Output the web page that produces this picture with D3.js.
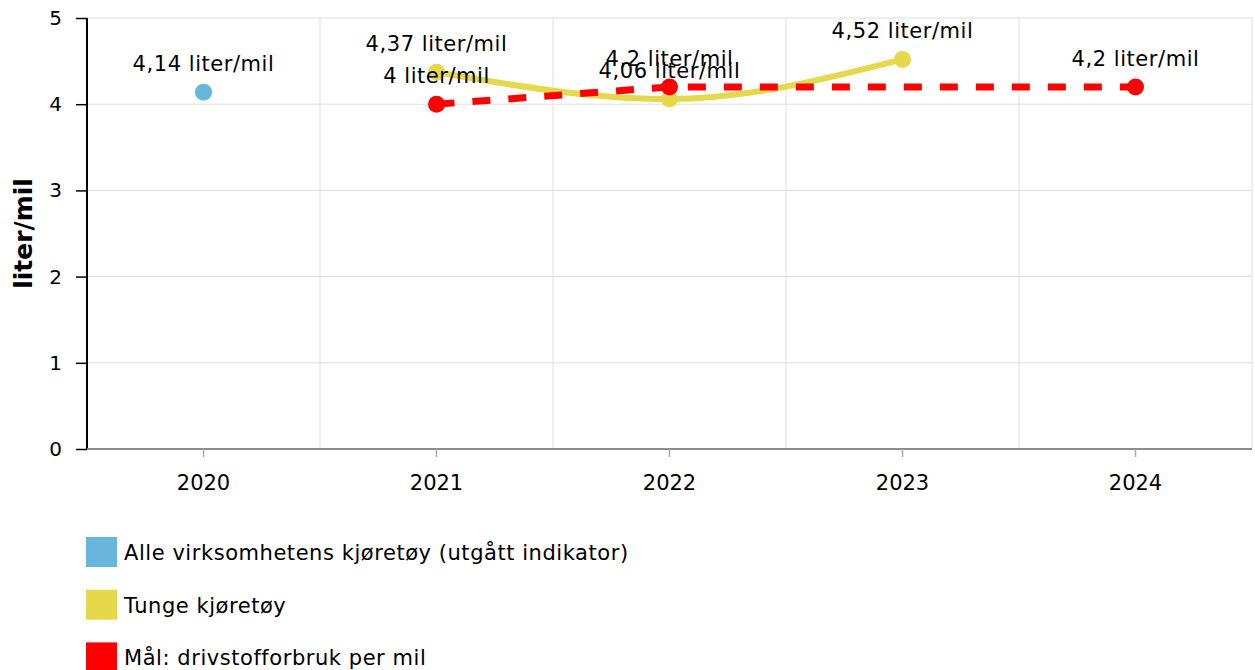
<!DOCTYPE html>
<html>
<head>
<meta charset="utf-8">
<script src="https://cdn.jsdelivr.net/npm/d3@7"></script>
<style>
  body { margin: 0; background: #fff; }
  svg, svg text { font-family: Verdana, "DejaVu Sans", sans-serif; }
  svg { display: block; }
  .grid line { stroke: #dedede; stroke-width: 1; }
</style>
</head>
<body>
<div id="chart"></div>
<script>
// data
var years = ["2020", "2021", "2022", "2023", "2024"];
var yTicks = [0, 1, 2, 3, 4, 5];

var alleValues = [4.14, null, null, null, null];
var tungeValues = [null, 4.37, 4.06, 4.52, null];
var malValues = [null, 4, 4.2, null, 4.2];

var seriesNames = ["Alle virksomhetens kjøretøy (utgått indikator)", "Tunge kjøretøy", "Mål: drivstofforbruk per mil"];
var seriesColors = ["#68b6dc", "#e5d84a", "#ff0000"];

var width = 1255, height = 670;
var margin = {top: 18, right: 3, bottom: 221, left: 87};
var innerW = width - margin.left - margin.right,
    innerH = height - margin.top - margin.bottom;

var svg = d3.select("#chart").append("svg")
    .attr("width", width)
    .attr("height", height);

var g = svg.append("g")
    .attr("transform", "translate(" + margin.left + "," + margin.top + ")");

var x = d3.scaleBand().domain(years).range([0, innerW]);
var y = d3.scaleLinear().domain([0, 5]).range([innerH, 0]);

function fmt(v) { return String(v).replace(".", ",") + " liter/mil"; }

// grid
var grid = g.append("g").attr("class", "grid");
grid.selectAll(".h").data(yTicks).enter().append("line")
    .attr("x1", 0).attr("x2", innerW)
    .attr("y1", function(d) { return y(d); })
    .attr("y2", function(d) { return y(d); });
grid.selectAll(".v").data(years.slice(1)).enter().append("line")
    .attr("x1", function(d) { return x(d); })
    .attr("x2", function(d) { return x(d); })
    .attr("y1", 0).attr("y2", innerH);
grid.append("line")
    .attr("x1", innerW).attr("x2", innerW)
    .attr("y1", 0).attr("y2", innerH);

// axes
var yAxis = g.append("g")
    .call(d3.axisLeft(y).tickValues(yTicks).tickFormat(d3.format("d")).tickSize(11).tickPadding(14));
yAxis.select(".domain").attr("stroke", "#000").attr("stroke-width", 2).attr("d", "M0," + innerH + "V0");
yAxis.selectAll(".tick line").attr("stroke", "#000").attr("stroke-width", 1.5);
yAxis.selectAll("text").attr("font-size", 20).attr("fill", "#000");

var xAxis = g.append("g")
    .attr("transform", "translate(0," + innerH + ")")
    .call(d3.axisBottom(x).tickSize(8).tickPadding(18));
xAxis.select(".domain").attr("stroke", "#8c8c8c").attr("stroke-width", 2).attr("d", "M0,0H" + innerW);
xAxis.selectAll(".tick line").attr("stroke", "#aaa").attr("stroke-width", 1.5);
xAxis.selectAll("text").attr("font-size", 21).attr("fill", "#000");

svg.append("text")
    .attr("transform", "translate(32," + (margin.top + innerH / 2) + ") rotate(-90)")
    .attr("text-anchor", "middle")
    .attr("font-size", 25)
    .attr("font-weight", "bold")
    .text("liter/mil");

function pts(vals) {
  return vals.map(function(v, i) { return {year: years[i], v: v}; })
             .filter(function(d) { return d.v !== null; });
}
var cx = function(d) { return x(d.year) + x.bandwidth() / 2; };

// tunge line (smooth)
g.append("path")
    .datum(pts(tungeValues))
    .attr("fill", "none")
    .attr("stroke", seriesColors[1])
    .attr("stroke-width", 6)
    .attr("d", d3.line().x(cx).y(function(d) { return y(d.v); }).curve(d3.curveMonotoneX));

// mål line (dashed, gaps connected)
g.append("path")
    .datum(pts(malValues))
    .attr("fill", "none")
    .attr("stroke", seriesColors[2])
    .attr("stroke-width", 7)
    .attr("stroke-dasharray", "18,18")
    .attr("d", d3.line().x(cx).y(function(d) { return y(d.v); }));

var all = [alleValues, tungeValues, malValues];
all.forEach(function(vals, i) {
  g.append("g").selectAll("circle").data(pts(vals)).enter().append("circle")
      .attr("cx", cx)
      .attr("cy", function(d) { return y(d.v); })
      .attr("r", 8.5)
      .attr("fill", seriesColors[i]);
});

all.forEach(function(vals) {
  g.append("g").selectAll("text").data(pts(vals)).enter().append("text")
      .attr("x", cx)
      .attr("y", function(d) { return y(d.v) - 21; })
      .attr("text-anchor", "middle")
      .attr("font-size", 21)
      .attr("letter-spacing", 0.55)
      .attr("fill", "#000")
      .text(function(d) { return fmt(d.v); });
});

// legend
var legend = svg.append("g").attr("transform", "translate(86,537)");
var item = legend.selectAll("g").data(seriesNames).enter().append("g")
    .attr("transform", function(d, i) { return "translate(0," + (i * 52.7) + ")"; });
item.append("rect")
    .attr("width", 31).attr("height", 30)
    .attr("fill", function(d, i) { return seriesColors[i]; });
item.append("text")
    .attr("x", 38).attr("y", 23)
    .attr("font-size", 21)
    .attr("letter-spacing", 0.55)
    .attr("fill", "#000")
    .text(function(d) { return d; });
</script>
</body>
</html>
